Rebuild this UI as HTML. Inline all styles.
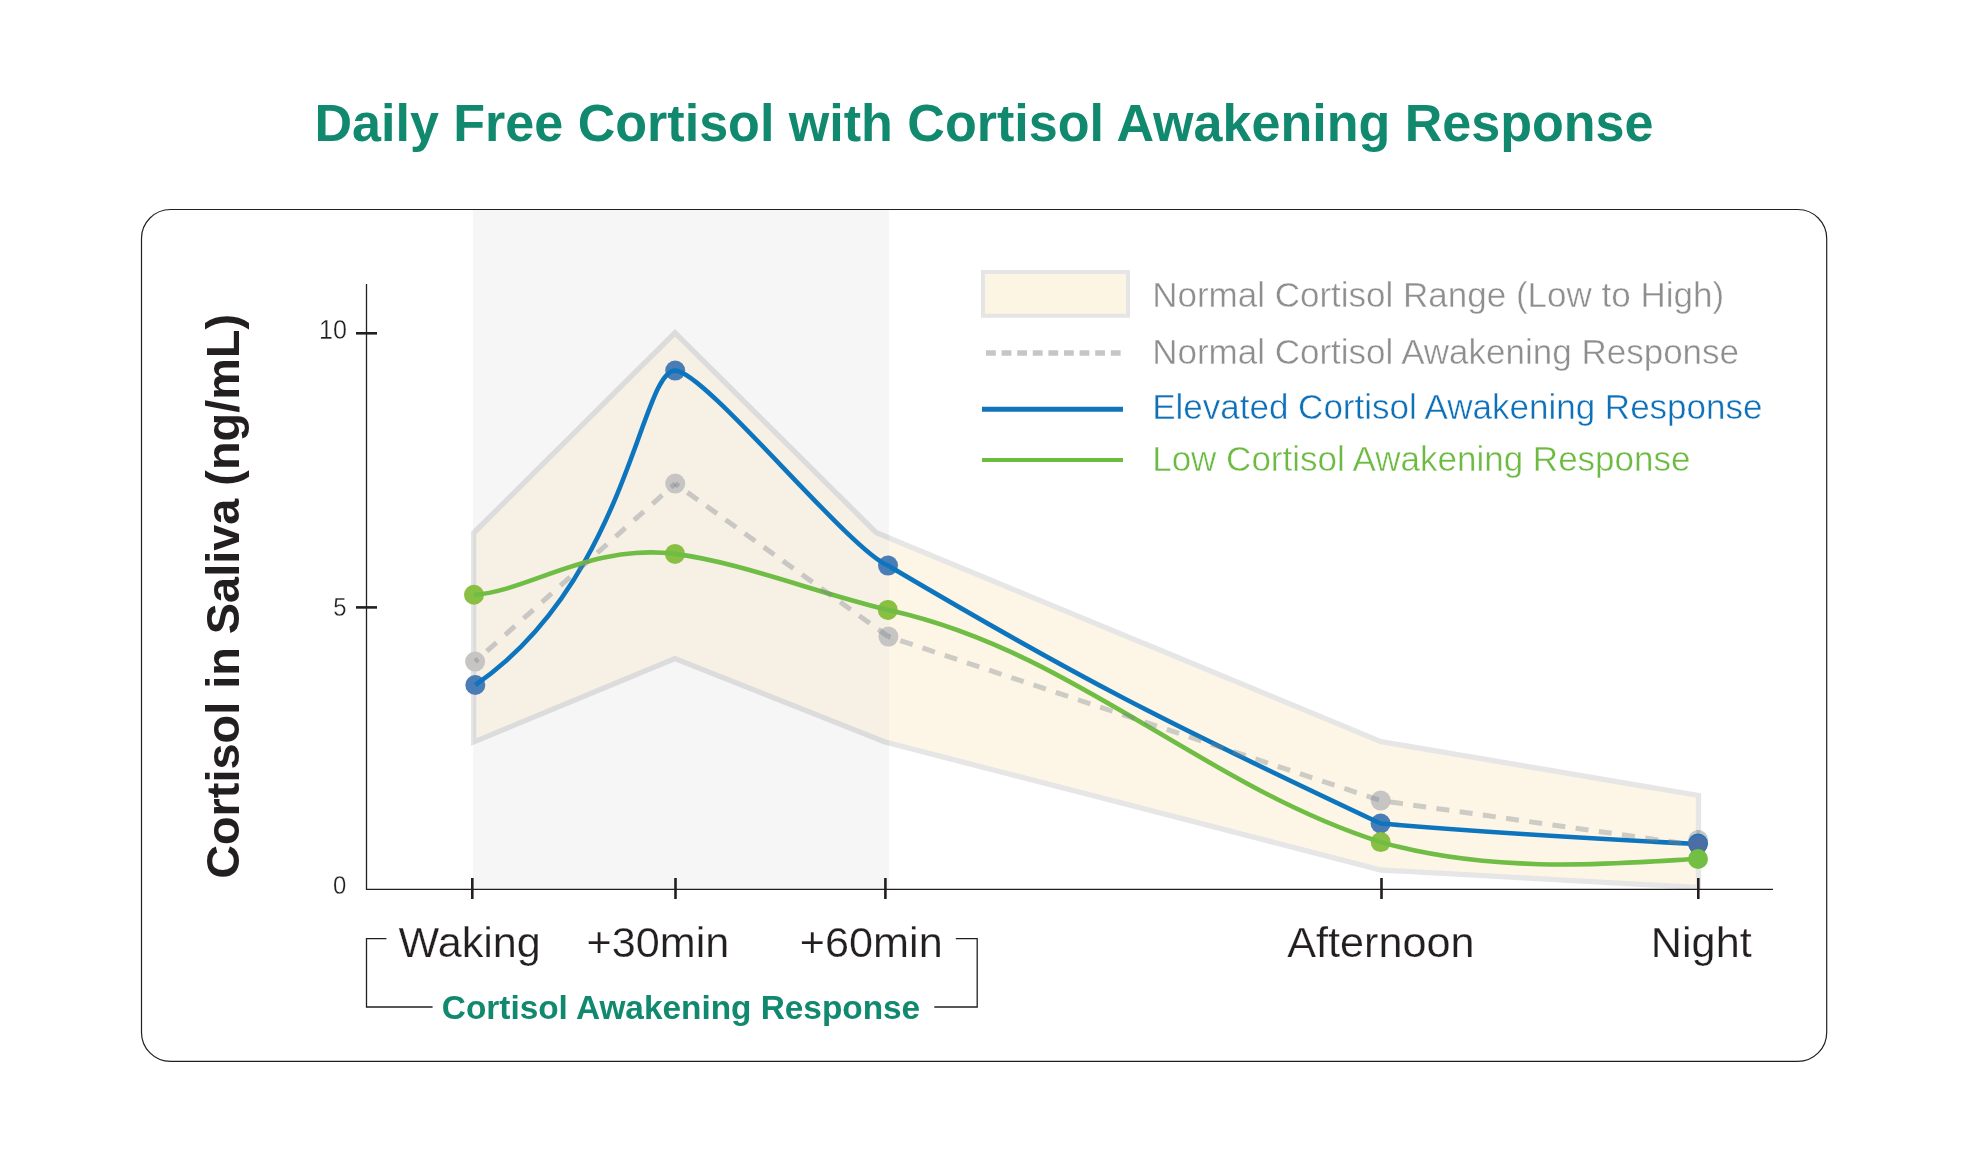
<!DOCTYPE html>
<html><head><meta charset="utf-8"><title>Daily Free Cortisol with Cortisol Awakening Response</title>
<style>html,body{margin:0;padding:0;background:#fff;overflow:hidden;width:1967px;height:1171px;} svg{display:block;font-family:"Liberation Sans", sans-serif;will-change:transform;}</style></head>
<body><svg width="1967" height="1171" viewBox="0 0 1967 1171">
<rect x="473" y="210" width="416" height="679" fill="#f6f6f6"/>
<defs><clipPath id="inband"><rect x="473" y="0" width="416" height="1171"/></clipPath><clipPath id="outband"><rect x="889" y="0" width="1100" height="1171"/><rect x="0" y="0" width="473" height="1171"/></clipPath></defs>
<path d="M473.6,533 L675,332.8 L876,532.5 L1381,741.6 L1698.5,795.5 L1698.5,887.5 L1381,870 L885,742 L675,658.5 L473.6,742 Z" fill="#f7f0e5" clip-path="url(#inband)"/>
<path d="M473.6,533 L675,332.8 L876,532.5 L1381,741.6 L1698.5,795.5 L1698.5,887.5 L1381,870 L885,742 L675,658.5 L473.6,742 Z" fill="#fdf6e6" clip-path="url(#outband)"/>
<path d="M473.6,533 L675,332.8 L876,532.5 L1381,741.6 L1698.5,795.5 L1698.5,887.5 L1381,870 L885,742 L675,658.5 L473.6,742 Z" fill="none" stroke="#dcdcdc" stroke-width="5.3" clip-path="url(#inband)"/>
<path d="M473.6,533 L675,332.8 L876,532.5 L1381,741.6 L1698.5,795.5 L1698.5,887.5 L1381,870 L885,742 L675,658.5 L473.6,742 Z" fill="none" stroke="#e6e6e6" stroke-width="5.3" clip-path="url(#outband)"/>
<rect x="141.5" y="209.5" width="1685.2" height="851.9" rx="29" ry="29" fill="none" stroke="#231f20" stroke-width="1.2"/>
<line x1="366.5" y1="284" x2="366.5" y2="889.8" stroke="#231f20" stroke-width="1.3"/>
<line x1="366" y1="889.3" x2="1773" y2="889.3" stroke="#231f20" stroke-width="1.3"/>
<line x1="356" y1="333.3" x2="377" y2="333.3" stroke="#231f20" stroke-width="2.6"/>
<line x1="356" y1="607.4" x2="377" y2="607.4" stroke="#231f20" stroke-width="2.6"/>
<line x1="472.3" y1="878" x2="472.3" y2="899" stroke="#231f20" stroke-width="2.6"/>
<line x1="675.5" y1="878" x2="675.5" y2="899" stroke="#231f20" stroke-width="2.6"/>
<line x1="885.4" y1="878" x2="885.4" y2="899" stroke="#231f20" stroke-width="2.6"/>
<line x1="1381.5" y1="878" x2="1381.5" y2="899" stroke="#231f20" stroke-width="2.6"/>
<line x1="1698.3" y1="878" x2="1698.3" y2="899" stroke="#231f20" stroke-width="2.6"/>
<circle cx="475.1" cy="661.6" r="10" fill="#c6c5c3"/>
<circle cx="675.2" cy="483.6" r="10" fill="#c6c5c3"/>
<circle cx="888.4" cy="636.6" r="10" fill="#c6c5c3"/>
<circle cx="1380.7" cy="800.6" r="10" fill="#c6c5c3"/>
<circle cx="475.3" cy="685.0" r="10" fill="#4a7db6"/>
<circle cx="675.2" cy="370.6" r="10" fill="#4a7db6"/>
<circle cx="888" cy="565.6" r="10" fill="#4a7db6"/>
<circle cx="1380.6" cy="823.5" r="10" fill="#4a7db6"/>
<circle cx="474.0" cy="594.8" r="10" fill="#89bf43"/>
<circle cx="675" cy="553.9" r="10" fill="#89bf43"/>
<circle cx="887.8" cy="609.9" r="10" fill="#89bf43"/>
<circle cx="1380.7" cy="842.1" r="10" fill="#89bf43"/>
<path d="M475.3,685.0 C628.31,579.62 640.46,370.6 675.2,370.6 C704.66,370.6 848.51,549.49 888,565.6 C1077.8,677.8 1163.1,721.3 1380.6,823.5 C1488.2,832.8 1602.5,839.1 1698,844" fill="none" stroke="#0d75be" stroke-width="4.6" stroke-linejoin="round"/>
<path d="M474.0,594.8 C528.3,591.4 590.4,543.3 675,553.9 C739.9,562.3 811.0,591.0 887.8,609.9 C1072.9,650.1 1203.4,786.0 1380.7,842.1 C1496.9,875.6 1626.7,862.8 1698,858.7" fill="none" stroke="#6fbd44" stroke-width="4.6"/>
<defs><clipPath id="gdots"><circle cx="475.1" cy="661.6" r="10"/><circle cx="675.2" cy="483.6" r="10"/><circle cx="888.4" cy="636.6" r="10"/><circle cx="1380.7" cy="800.6" r="10"/><circle cx="1698" cy="845.5" r="10"/></clipPath></defs>
<path d="M475.1,661.6 L675.2,483.6" fill="none" stroke="#78818a" stroke-opacity="0.37" stroke-width="5" stroke-dasharray="13.0 11.65" stroke-dashoffset="9.05"/>
<path d="M675.2,483.6 L888.4,636.6" fill="none" stroke="#78818a" stroke-opacity="0.37" stroke-width="5" stroke-dasharray="13.0 10.50" stroke-dashoffset="8.50"/>
<path d="M888.4,636.6 L1380.7,800.6" fill="none" stroke="#78818a" stroke-opacity="0.37" stroke-width="5" stroke-dasharray="13.0 10.40" stroke-dashoffset="10.80"/>
<path d="M1380.7,800.6 L1698,845.5" fill="none" stroke="#78818a" stroke-opacity="0.37" stroke-width="5" stroke-dasharray="13.0 10.43" stroke-dashoffset="14.00"/>
<circle cx="1698.2" cy="840" r="10" fill="#c9c8c6"/>
<rect x="1696.3" y="830" width="4" height="8" fill="#b5b4b2"/>
<circle cx="1698" cy="843.5" r="10" fill="#0f77c4"/>
<circle cx="1698" cy="844.6" r="9.6" fill="#4b6fa4"/>
<circle cx="1698" cy="859" r="10" fill="#72bf44"/>
<rect x="983" y="272" width="145" height="43.8" fill="#fdf5e4" stroke="#e5e5e5" stroke-width="4"/>
<line x1="986" y1="353" x2="1121" y2="353" stroke="#c6c6c6" stroke-width="5.5" stroke-dasharray="9.8 5.8"/>
<line x1="982" y1="409.3" x2="1123" y2="409.3" stroke="#1173ba" stroke-width="5"/>
<line x1="982" y1="459.9" x2="1123" y2="459.9" stroke="#6dbb3f" stroke-width="4"/>
<text x="1152.20" y="306.90" font-size="35" font-weight="normal" fill="#8f8e8e" stroke="#fff" stroke-width="0.45">Normal Cortisol Range (Low to High)</text>
<text x="1152.20" y="363.90" font-size="35" font-weight="normal" fill="#8f8e8e" stroke="#fff" stroke-width="0.45">Normal Cortisol Awakening Response</text>
<text x="1152.20" y="419.00" font-size="35" font-weight="normal" fill="#0e70b9" stroke="#fff" stroke-width="0.45">Elevated Cortisol Awakening Response</text>
<text x="1152.20" y="470.80" font-size="35" font-weight="normal" fill="#6cba41" stroke="#fff" stroke-width="0.45">Low Cortisol Awakening Response</text>
<text x="314.46" y="140.80" font-size="52.06" font-weight="bold" fill="#10896e" >Daily Free Cortisol with Cortisol Awakening Response</text>
<text transform="translate(239,878.87) rotate(-90)" x="0" y="0" font-size="46.87" font-weight="bold" fill="#231f20">Cortisol in Saliva (ng/mL)</text>
<text x="318.84" y="339.40" font-size="27" font-weight="normal" fill="#231f20" stroke="#fff" stroke-width="0.3" transform="translate(321,0) scale(0.93,1) translate(-321,0)">10</text>
<text x="333.04" y="615.90" font-size="26.5" font-weight="normal" fill="#231f20" stroke="#fff" stroke-width="0.3" transform="translate(334.1,0) scale(0.9,1) translate(-334.1,0)">5</text>
<text x="332.94" y="893.60" font-size="26.5" font-weight="normal" fill="#231f20" stroke="#fff" stroke-width="0.3" transform="translate(334,0) scale(0.9,1) translate(-334,0)">0</text>
<text x="398.47" y="957.30" font-size="43.2" font-weight="normal" fill="#231f20" stroke="#fff" stroke-width="0.25">Waking</text>
<text x="586.44" y="957.30" font-size="43.2" font-weight="normal" fill="#231f20" stroke="#fff" stroke-width="0.25">+30min</text>
<text x="799.84" y="957.30" font-size="43.2" font-weight="normal" fill="#231f20" stroke="#fff" stroke-width="0.25">+60min</text>
<text x="1287.30" y="957.30" font-size="43.2" font-weight="normal" fill="#231f20" stroke="#fff" stroke-width="0.25">Afternoon</text>
<text x="1650.84" y="957.30" font-size="43.2" font-weight="normal" fill="#231f20" stroke="#fff" stroke-width="0.25">Night</text>
<path d="M386.4,938.6 H366.5 V1007 H432.6 M934.3,1007 H977.2 V938.6 H955.8" fill="none" stroke="#231f20" stroke-width="1.3"/>
<text x="441.87" y="1019.30" font-size="33.37" font-weight="bold" fill="#10896e" >Cortisol Awakening Response</text>
</svg></body></html>
